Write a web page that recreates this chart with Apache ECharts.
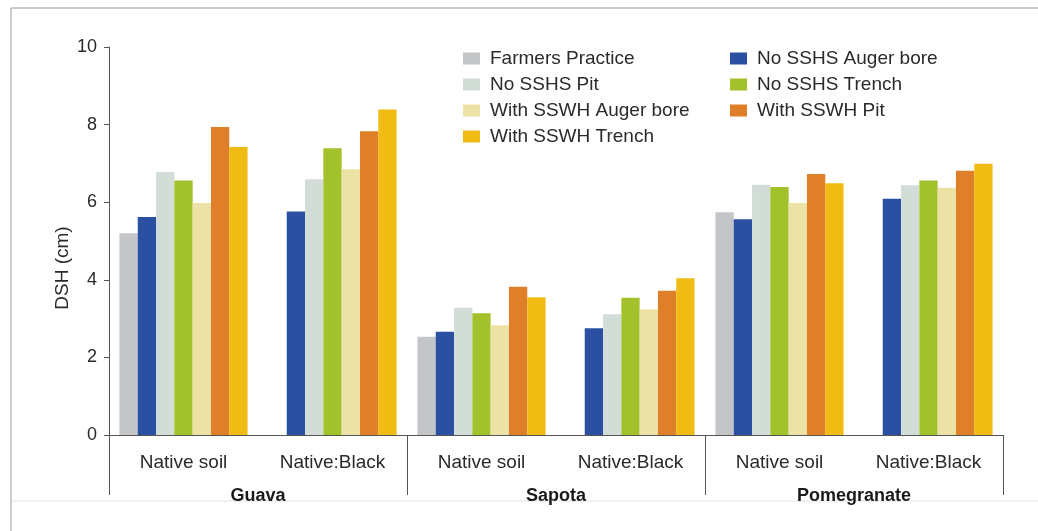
<!DOCTYPE html>
<html>
<head>
<meta charset="utf-8">
<script src="https://cdn.jsdelivr.net/npm/echarts@6/dist/echarts.min.js"></script>
<style>
  html, body { margin: 0; padding: 0; background: #fff; }
  #chart { width: 1038px; height: 531px; }
</style>
</head>
<body>
<div id="chart"></div>
<script>
// sub categories and crop groups
var categories = ['Native soil', 'Native:Black', 'Native soil', 'Native:Black', 'Native soil', 'Native:Black'];
var groups = ['Guava', 'Sapota', 'Pomegranate'];
var yTicks = [0, 2, 4, 6, 8, 10];

var farmersPractice   = [5.2, null, 2.53, null, 5.74, null];
var noAugerBore       = [5.62, 5.76, 2.66, 2.75, 5.56, 6.09];
var noPit             = [6.78, 6.59, 3.28, 3.11, 6.45, 6.44];
var noTrench          = [6.56, 7.39, 3.14, 3.54, 6.39, 6.56];
var withAugerBore     = [5.98, 6.85, 2.83, 3.24, 5.98, 6.37];
var withPit           = [7.94, 7.83, 3.82, 3.72, 6.73, 6.81];
var withTrench        = [7.42, 8.39, 3.55, 4.04, 6.49, 6.99];

var seriesNames = ['Farmers Practice', 'No SSHS Auger bore', 'No SSHS Pit', 'No SSHS Trench',
                   'With SSWH Auger bore', 'With SSWH Pit', 'With SSWH Trench'];
var seriesData = [farmersPractice, noAugerBore, noPit, noTrench, withAugerBore, withPit, withTrench];
var colors = ['#c3c5c8', '#2b50a2', '#d3ddd8', '#a2c12b', '#ece2a6', '#e07f2a', '#f0bc14'];

var myChart = echarts.init(document.getElementById('chart'));
var font = 'Liberation Sans, Arial, sans-serif';

var series = [];
for (var i = 0; i < seriesNames.length; i++) {
    series.push({
        name: seriesNames[i],
        type: 'bar',
        data: seriesData[i],
        itemStyle: { color: colors[i] },
        barGap: '0%',
        barCategoryGap: '14%',
        animation: false
    });
}

var legendCommon = {
    orient: 'vertical',
    itemWidth: 17,
    itemHeight: 12,
    itemGap: 7,
    icon: 'rect',
    selectedMode: false,
    textStyle: { fontFamily: font, fontSize: 19, color: '#2a2a2a', padding: [0, 0, 0, 5] }
};

var option = {
    backgroundColor: '#fff',
    color: colors,
    textStyle: { fontFamily: font },
    legend: [
        Object.assign({ left: 458, top: 44,
            data: ['Farmers Practice', 'No SSHS Pit', 'With SSWH Auger bore', 'With SSWH Trench'] }, legendCommon),
        Object.assign({ left: 725, top: 44,
            data: ['No SSHS Auger bore', 'No SSHS Trench', 'With SSWH Pit'] }, legendCommon)
    ],
    grid: { left: 109, right: 35, top: 47, bottom: 96 },
    xAxis: [{
        type: 'category',
        data: categories,
        axisLine: { lineStyle: { color: '#555', width: 1 } },
        axisTick: { show: false },
        axisLabel: { margin: 18, fontSize: 19, color: '#2a2a2a', fontFamily: font }
    }, {
        type: 'category',
        data: groups,
        position: 'bottom',
        axisLine: { show: false },
        axisTick: { show: true, length: 60, lineStyle: { color: '#555' } },
        axisLabel: { margin: 52, fontSize: 18, fontWeight: 'bold', color: '#1a1a1a', fontFamily: font }
    }],
    yAxis: {
        type: 'value',
        min: 0,
        max: 10,
        interval: 2,
        axisLine: { show: true, lineStyle: { color: '#555' } },
        axisTick: { show: true, length: 5, lineStyle: { color: '#555' } },
        splitLine: { show: false },
        axisLabel: {
            margin: 12, fontSize: 18, color: '#2a2a2a', fontFamily: font,
            formatter: function (v) { return yTicks.indexOf(v) >= 0 ? String(v) : ''; }
        }
    },
    graphic: [
        { type: 'line', shape: { x1: 11, y1: 8, x2: 1038, y2: 8 }, style: { stroke: '#999', lineWidth: 1 } },
        { type: 'line', shape: { x1: 11, y1: 8, x2: 11, y2: 531 }, style: { stroke: '#999', lineWidth: 1 } },
        { type: 'line', shape: { x1: 11, y1: 501, x2: 1038, y2: 501 }, style: { stroke: '#e2e2e2', lineWidth: 1 } },
        { type: 'text', x: 63, y: 268, rotation: Math.PI / 2,
          style: { text: 'DSH (cm)', fontSize: 19, fontFamily: font, fill: '#2a2a2a',
                   align: 'center', verticalAlign: 'middle' } }
    ],
    series: series
};

myChart.setOption(option);
</script>
</body>
</html>
